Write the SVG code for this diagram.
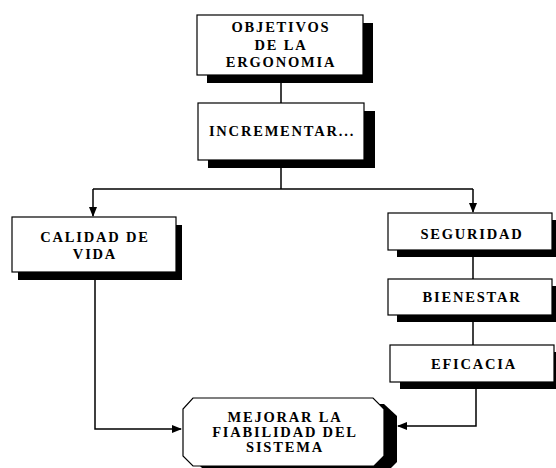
<svg xmlns="http://www.w3.org/2000/svg" width="556" height="468" viewBox="0 0 556 468">
  <style>
    .box { fill: #ffffff; stroke: #000000; stroke-width: 1.2; }
    .shadow { fill: #000000; stroke: none; }
    .lbl { font-family: "Liberation Serif", "Times New Roman", serif; font-weight: bold; font-size: 14.5px; letter-spacing: 1.8px; fill: #000000; text-anchor: middle; }
    .conn { fill: none; stroke: #000000; stroke-width: 1.5; }
  </style>
  <defs>
    <marker id="arrow" markerUnits="userSpaceOnUse" markerWidth="10" markerHeight="8" refX="9" refY="4" orient="auto">
      <path d="M0,0 L10,4 L0,8 Z" fill="#000000"/>
    </marker>
  </defs>
  <rect width="556" height="468" fill="#ffffff"/>

  <g id="connectors">
    <path class="conn" d="M281,82 V103"/>
    <path class="conn" d="M281,168 V189"/>
    <path class="conn" d="M93,189 H473"/>
    <path class="conn" d="M93,189 V216" marker-end="url(#arrow)"/>
    <path class="conn" d="M473,189 V212" marker-end="url(#arrow)"/>
    <path class="conn" d="M95,280 V429 H181" marker-end="url(#arrow)"/>
    <path class="conn" d="M473,257 V279"/>
    <path class="conn" d="M473,322 V345"/>
    <path class="conn" d="M476,389 V426 H398" marker-end="url(#arrow)"/>
  </g>

  <g id="objetivos">
    <rect class="shadow" x="207" y="23" width="166" height="60"/>
    <rect class="box" x="197" y="15" width="166" height="60"/>
    <text class="lbl" x="281" y="32">OBJETIVOS</text>
    <text class="lbl" x="281" y="50">DE LA</text>
    <text class="lbl" x="281" y="67">ERGONOMIA</text>
  </g>

  <g id="incrementar">
    <rect class="shadow" x="208" y="111" width="167" height="57"/>
    <rect class="box" x="198" y="103" width="166" height="57"/>
    <text class="lbl" x="282" y="136">INCREMENTAR...</text>
  </g>

  <g id="calidad">
    <rect class="shadow" x="18" y="225" width="164" height="55"/>
    <rect class="box" x="12" y="217" width="164" height="55"/>
    <text class="lbl" x="95" y="242">CALIDAD DE</text>
    <text class="lbl" x="95" y="259">VIDA</text>
  </g>

  <g id="seguridad">
    <rect class="shadow" x="397" y="220" width="170" height="37"/>
    <rect class="box" x="388" y="213" width="164" height="37"/>
    <text class="lbl" x="472" y="239">SEGURIDAD</text>
  </g>

  <g id="bienestar">
    <rect class="shadow" x="397" y="286" width="170" height="36"/>
    <rect class="box" x="388" y="279" width="164" height="36"/>
    <text class="lbl" x="472" y="302">BIENESTAR</text>
  </g>

  <g id="eficacia">
    <rect class="shadow" x="400" y="352" width="170" height="37"/>
    <rect class="box" x="390" y="345" width="164" height="37"/>
    <text class="lbl" x="474" y="369">EFICACIA</text>
  </g>

  <g id="mejorar">
    <path class="shadow" d="M206,404 H384 L397,416 V462 L387,472 H206 L196,462 V416 Z"/>
    <path class="box" d="M193,398 H373 L384,409 V456 L374,466 H193 L183,456 V409 Z"/>
    <text class="lbl" x="285" y="422">MEJORAR LA</text>
    <text class="lbl" x="285" y="437">FIABILIDAD DEL</text>
    <text class="lbl" x="285" y="452">SISTEMA</text>
  </g>
</svg>
